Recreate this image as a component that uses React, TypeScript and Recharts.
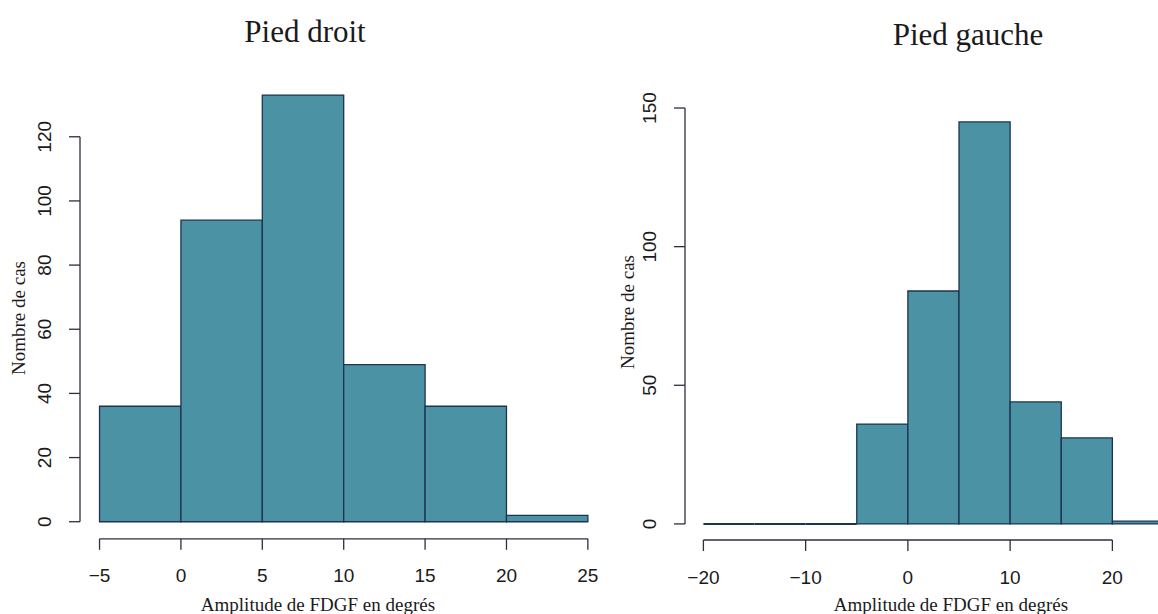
import { ComposedChart, XAxis, YAxis, ReferenceArea, ReferenceLine } from "recharts";

// bin edges and counts
const rightFootEdges = [-5, 0, 5, 10, 15, 20, 25];
const rightFootCounts = [36, 94, 133, 49, 36, 2];
const rightFootXTicks = [-5, 0, 5, 10, 15, 20, 25];
const rightFootYTicks = [0, 20, 40, 60, 80, 100, 120];

const leftFootEdges = [-20, -15, -10, -5, 0, 5, 10, 15, 20, 25];
const leftFootCounts = [0, 0, 0, 36, 84, 145, 44, 31, 1];
const leftFootXTicks = [-20, -10, 0, 10, 20];
const leftFootYTicks = [0, 50, 100, 150];

const FILL = "#4b93a4";
const EDGE = "#1d3350";
const AXIS = "#2b2f3f";
const TEXT = "#1a1a1a";

const fmt = (v: number) => (v < 0 ? "\u2212" + Math.abs(v) : String(v));

const XTick = ({ x, y, payload }: any) => (
  <text x={x} y={y + 26} textAnchor="middle" dominantBaseline="central"
    fontFamily="'Liberation Sans', Arial, sans-serif" fontSize={19} fill={TEXT}>
    {fmt(payload.value)}
  </text>
);

const YTick = ({ x, y, payload }: any) => (
  <text x={x - 24} y={y} textAnchor="middle" dominantBaseline="central"
    transform={`rotate(-90, ${x - 24}, ${y})`}
    fontFamily="'Liberation Sans', Arial, sans-serif" fontSize={19} fill={TEXT}>
    {payload.value}
  </text>
);

function Histogram({ edges, counts, xTicks, yTicks, width, marginTop, marginRight, xAxisHeight }: any) {
  const data = counts.map((c: number, i: number) => ({ x0: edges[i], x1: edges[i + 1], count: c }));
  const xMin = edges[0];
  const xMax = edges[edges.length - 1];
  const maxCount = Math.max(...counts);
  // R style 4% extension of the plot region
  const xPad = (xMax - xMin) * 0.04;
  const yPad = maxCount * 0.04;
  const xDomain = [xMin - xPad, xMax + xPad];
  const yDomain = [-yPad, maxCount + yPad];

  return (
    <ComposedChart width={width} height={614} data={data}
      margin={{ top: marginTop, right: marginRight, left: 0, bottom: 0 }}>
      <XAxis type="number" dataKey="x0" domain={xDomain} allowDataOverflow ticks={xTicks}
        interval={0} height={xAxisHeight} axisLine={false} tickSize={11} tickMargin={0}
        tickLine={{ stroke: AXIS, strokeWidth: 1.3 }} tick={<XTick />} />
      <YAxis type="number" domain={yDomain} allowDataOverflow ticks={yTicks} interval={0}
        width={80} axisLine={false} tickSize={11} tickMargin={0}
        tickLine={{ stroke: AXIS, strokeWidth: 1.3 }} tick={<YTick />} />

      {/* axis lines span only the tick range, like base R */}
      <ReferenceLine ifOverflow="visible" stroke={AXIS} strokeWidth={1.3}
        segment={[{ x: xDomain[0], y: yTicks[0] }, { x: xDomain[0], y: yTicks[yTicks.length - 1] }]} />
      <ReferenceLine ifOverflow="visible" stroke={AXIS} strokeWidth={1.3}
        segment={[{ x: xTicks[0], y: yDomain[0] }, { x: xTicks[xTicks.length - 1], y: yDomain[0] }]} />

      {data.map((d: any, i: number) =>
        d.count > 0 ? (
          <ReferenceArea key={i} x1={d.x0} x2={d.x1} y1={0} y2={d.count} ifOverflow="visible"
            fill={FILL} fillOpacity={1} stroke={EDGE} strokeWidth={1.3} />
        ) : (
          <ReferenceLine key={i} ifOverflow="visible" stroke={EDGE} strokeWidth={2}
            segment={[{ x: d.x0, y: 0 }, { x: d.x1, y: 0 }]} />
        )
      )}
    </ComposedChart>
  );
}

const serif = "'Liberation Serif', 'Times New Roman', serif";

const abs = (left: number, top: number, extra: any = {}) => ({
  position: "absolute" as const, left, top, whiteSpace: "nowrap" as const, lineHeight: 1,
  fontFamily: serif, color: TEXT, ...extra,
});

export default function App() {
  return (
    <div style={{ position: "absolute", left: 0, top: 0, width: 1158, height: 614, overflow: "hidden", background: "#fff" }}>
      <div style={{ position: "absolute", left: 0, top: 0 }}>
        <Histogram edges={rightFootEdges} counts={rightFootCounts} xTicks={rightFootXTicks}
          yTicks={rightFootYTicks} width={620} marginTop={78} marginRight={12.6} xAxisHeight={75.2} />
      </div>
      <div style={{ position: "absolute", left: 604.6, top: 0 }}>
        <Histogram edges={leftFootEdges} counts={leftFootCounts} xTicks={leftFootXTicks}
          yTicks={leftFootYTicks} width={587} marginTop={105.8} marginRight={10.1} xAxisHeight={74} />
      </div>

      <div style={abs(305, 16, { fontSize: 31, transform: "translateX(-50%)" })}>Pied droit</div>
      <div style={abs(968, 19, { fontSize: 31, transform: "translateX(-50%)" })}>Pied gauche</div>

      <div style={abs(318, 595, { fontSize: 19, transform: "translateX(-50%)" })}>Amplitude de FDGF en degrés</div>
      <div style={abs(951, 595, { fontSize: 19, transform: "translateX(-50%)" })}>Amplitude de FDGF en degrés</div>

      <div style={abs(18, 318, { fontSize: 19, transform: "translate(-50%, -50%) rotate(-90deg)" })}>Nombre de cas</div>
      <div style={abs(627, 312, { fontSize: 19, transform: "translate(-50%, -50%) rotate(-90deg)" })}>Nombre de cas</div>
    </div>
  );
}
